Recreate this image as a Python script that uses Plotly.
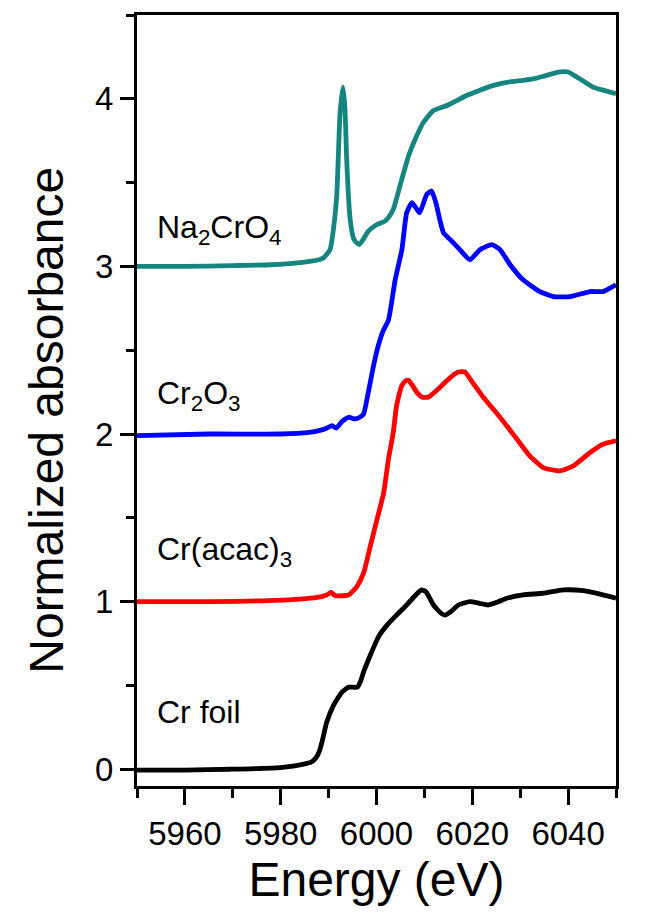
import plotly.graph_objects as go

# Cr K-edge XANES spectra, stacked with vertical offsets of 1
na2cro4_e = [5950, 5960, 5970, 5978, 5983, 5986, 5988, 5988.9, 5990.3, 5991.0, 5991.7, 5992.4,
             5993.0, 5993.4, 5993.8, 5994.5, 5995.3, 5996.4, 5997.2, 5998.3, 6000.1, 6001.8,
             6002.7, 6003.5, 6004.9, 6006.7, 6008.1, 6009.8, 6011.9, 6014.7, 6018.8, 6021.5,
             6024.4, 6027.5, 6030.6, 6033.0, 6035.5, 6038.3, 6040.0, 6041.8, 6043.5, 6045.2,
             6047.5, 6050]
na2cro4_a = [3.00, 3.00, 3.005, 3.01, 3.02, 3.03, 3.04, 3.05, 3.10, 3.22, 3.42, 3.92,
             4.07, 3.95, 3.62, 3.28, 3.16, 3.13, 3.16, 3.21, 3.25, 3.27,
             3.30, 3.34, 3.48, 3.66, 3.76, 3.86, 3.93, 3.96, 4.02, 4.05,
             4.08, 4.10, 4.11, 4.12, 4.14, 4.16, 4.16, 4.13, 4.10, 4.07,
             4.05, 4.03]

cr2o3_e = [5950, 5965, 5980, 5986, 5988, 5989.6, 5990.7, 5991.6, 5992.8, 5994.2, 5995.5,
           5996.5, 5997.3, 5998.3, 5999.4, 6000.4, 6001.3, 6002.5, 6003.9, 6005.3, 6006.3,
           6007.4, 6008.2, 6009.0, 6010.5, 6011.5, 6012.4, 6013.2, 6014.0, 6015.4, 6017.4,
           6019.5, 6021.6, 6024.1, 6025.8, 6027.9, 6030.6, 6034.1, 6036.9, 6040.4, 6044.6,
           6047.3, 6050]
cr2o3_a = [1.99, 2.00, 2.00, 2.01, 2.02, 2.035, 2.05, 2.035, 2.075, 2.10, 2.09,
           2.10, 2.12, 2.25, 2.41, 2.53, 2.61, 2.68, 2.92, 3.10, 3.32,
           3.38, 3.35, 3.32, 3.43, 3.45, 3.38, 3.28, 3.20, 3.16, 3.10,
           3.04, 3.10, 3.13, 3.10, 3.01, 2.92, 2.85, 2.82, 2.82, 2.85,
           2.85, 2.89]

cracac_e = [5950, 5965, 5976.4, 5984, 5987.6, 5989.6, 5990.5, 5991.4, 5993.0, 5994.2, 5995.9,
            5997.3, 5998.7, 6000.1, 6001.5, 6002.5, 6003.5, 6004.2, 6005.3, 6006.2, 6006.7,
            6007.5, 6008.4, 6009.5, 6010.8, 6013.3, 6015.5, 6017.1, 6018.5, 6019.5, 6022.3,
            6025.8, 6029.3, 6032.0, 6034.8, 6038.3, 6041.1, 6044.6, 6047.3, 6050]
cracac_a = [1.00, 1.00, 1.005, 1.015, 1.025, 1.04, 1.055, 1.035, 1.035, 1.04, 1.09,
            1.17, 1.33, 1.49, 1.65, 1.85, 2.01, 2.17, 2.29, 2.32, 2.32,
            2.29, 2.25, 2.22, 2.22, 2.28, 2.34, 2.37, 2.37, 2.33, 2.22,
            2.10, 1.97, 1.87, 1.80, 1.78, 1.81, 1.89, 1.94, 1.96]

crfoil_e = [5950, 5960, 5969.5, 5979.9, 5984.8, 5986.5, 5987.4, 5988.1, 5988.6, 5989.6, 5991.0,
            5992.8, 5994.2, 5996.0, 5996.6, 5997.3, 5998.7, 6000.4, 6002.2, 6004.2, 6006.3,
            6008.2, 6009.4, 6010.3, 6011.9, 6013.5, 6014.3, 6015.5, 6017.1, 6019.5, 6021.5,
            6023.3, 6025.5, 6027.2, 6030.6, 6034.8, 6039.0, 6043.2, 6047.3, 6050]
crfoil_a = [-0.005, -0.005, 0.0, 0.01, 0.03, 0.045, 0.07, 0.11, 0.16, 0.28, 0.38,
            0.46, 0.49, 0.49, 0.52, 0.58, 0.68, 0.79, 0.86, 0.92, 0.98,
            1.04, 1.07, 1.06, 0.98, 0.93, 0.92, 0.94, 0.98, 1.00, 0.99,
            0.98, 1.00, 1.02, 1.04, 1.05, 1.07, 1.065, 1.04, 1.02]

series = [
    ("Na<sub>2</sub>CrO<sub>4</sub>", na2cro4_e, na2cro4_a, "#17857f", 3.22),
    ("Cr<sub>2</sub>O<sub>3</sub>", cr2o3_e, cr2o3_a, "#0000ff", 2.23),
    ("Cr(acac)<sub>3</sub>", cracac_e, cracac_a, "#ff0000", 1.30),
    ("Cr foil", crfoil_e, crfoil_a, "#000000", 0.34),
]

x_ticks = [5960, 5980, 6000, 6020, 6040]
y_ticks = [0, 1, 2, 3, 4]

FONT = "Liberation Sans, Arial, sans-serif"

fig = go.Figure()
for name, e, a, color, _ in series:
    fig.add_trace(go.Scatter(x=e, y=a, mode="lines", name=name,
                             line=dict(color=color, width=4.8, shape="spline", smoothing=0.5)))

for name, _, _, _, ylab in series:
    fig.add_annotation(x=5953.8, y=ylab, xref="x", yref="y", text=name, showarrow=False,
                       xanchor="left", yanchor="middle",
                       font=dict(family=FONT, size=32, color="black"))

# vertical axis title, placed beside the tick labels
fig.add_annotation(x=-0.188, y=0.475, xref="paper", yref="paper",
                   text="Normalized absorbance", textangle=-90, showarrow=False,
                   xanchor="center", yanchor="middle",
                   font=dict(family=FONT, size=48, color="black"))

axis_common = dict(showline=True, linecolor="black", linewidth=3, mirror=True,
                   showgrid=False, zeroline=False, ticks="outside", tickcolor="black",
                   tickwidth=2.5, tickfont=dict(family=FONT, size=33, color="black"))

fig.update_xaxes(range=[5950, 6050], tickvals=x_ticks, ticklen=16,
                 minor=dict(ticks="outside", ticklen=9, tickwidth=2.5, tickcolor="black",
                            dtick=10, tick0=5950),
                 title=dict(text="Energy (eV)", font=dict(family=FONT, size=48, color="black"),
                            standoff=12),
                 **axis_common)
fig.update_yaxes(range=[-0.1, 4.5], tickvals=y_ticks, ticklen=14,
                 minor=dict(ticks="outside", ticklen=8, tickwidth=2.5, tickcolor="black",
                            dtick=0.5, tick0=0),
                 **axis_common)

fig.update_layout(width=663, height=920, margin=dict(l=137, r=47, t=15, b=134),
                  paper_bgcolor="white", plot_bgcolor="white", showlegend=False)

fig.write_html("out.html")
